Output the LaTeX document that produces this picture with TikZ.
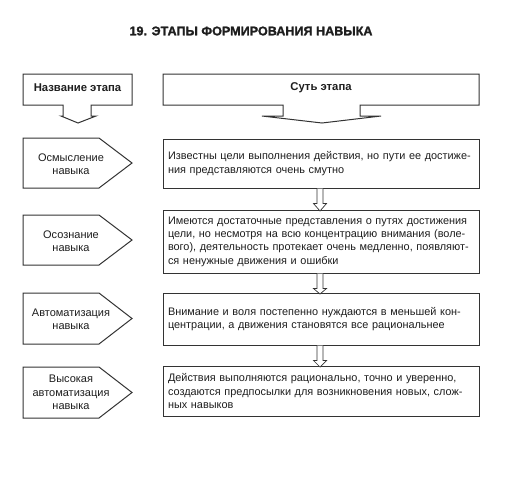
\documentclass[tikz,border=0pt]{standalone}
\usepackage{fontspec}
\setmainfont{Liberation Sans}
\newfontfamily\heavyfont[BoldFont={Liberation Sans Bold},BoldFeatures={FakeBold=1.6}]{Liberation Sans}
\definecolor{ink}{HTML}{333333}
\definecolor{txt}{HTML}{1E1E1E}
\begin{document}
\begin{tikzpicture}[x=1pt,y=-1pt,
  outline/.style={draw=ink,line width=1pt,line join=miter},
  essbox/.style={outline,text=txt,inner xsep=5pt,text width=306pt,align=left,
    font=\fontsize{10.9}{13.3}\selectfont},
  stagetext/.style={text=txt,align=center,font=\fontsize{11}{13.3}\selectfont},
  headtext/.style={text=txt,font=\bfseries\fontsize{11.3}{13}\selectfont},
  downarrow/.style={draw=ink,line width=0.7pt,fill=white}]
\useasboundingbox[fill=white] (0,0) rectangle (511,499);

% title
\node[text=txt,font=\heavyfont\bfseries\fontsize{12.6}{14}\selectfont] (title) at (251,31) {19. ЭТАПЫ ФОРМИРОВАНИЯ НАВЫКА};

% header callouts
\draw[outline] (23,74) -- (132,74) -- (132,105) -- (91,105) -- (91,116) -- (96,116)
  -- (78,123) -- (61,116) -- (63,116) -- (63,105) -- (23,105) -- cycle;
\node[headtext] (hname) at (77.5,88) {Название этапа};

\draw[outline] (163,74) -- (479,74) -- (479,105) -- (360,105) -- (360,116) -- (381,116)
  -- (322,123) -- (262,116) -- (283,116) -- (283,105) -- (163,105) -- cycle;
\node[headtext] (hess) at (321,88) {Суть этапа};

% stage pentagons
\draw[outline] (23,138) -- (99,138) -- (132,163) -- (99,188) -- (23,188) -- cycle;
\node[stagetext] (s1) at (71,164) {Осмысление\\навыка};
\draw[outline] (23,215) -- (99,215) -- (132,240) -- (99,265) -- (23,265) -- cycle;
\node[stagetext] (s2) at (71,241) {Осознание\\навыка};
\draw[outline] (23,293) -- (99,293) -- (132,318.5) -- (99,344) -- (23,344) -- cycle;
\node[stagetext] (s3) at (71,319) {Автоматизация\\навыка};
\draw[outline] (23,367) -- (99,367) -- (132,392.5) -- (99,418) -- (23,418) -- cycle;
\node[stagetext] (s4) at (71,392.5) {Высокая\\автоматизация\\навыка};

% essence boxes
\node[essbox,minimum height=49pt] (b1) at (321,163.5)
  {Известны цели выполнения действия, но пути ее достиже-\\ния представляются очень смутно};
\node[essbox,minimum height=63pt] (b2) at (321,241.5)
  {Имеются достаточные представления о путях достижения\\цели, но несмотря на всю концентрацию внимания (воле-\\вого), деятельность протекает очень медленно, появляют-\\ся ненужные движения и ошибки};
\node[essbox,minimum height=52pt] (b3) at (321,319)
  {Внимание и воля постепенно нуждаются в меньшей кон-\\центрации, а движения становятся все рациональнее};
\node[essbox,minimum height=50pt] (b4) at (321,391)
  {Действия выполняются рационально, точно и уверенно,\\создаются предпосылки для возникновения новых, слож-\\ных навыков};

% hollow arrows between boxes
\foreach \a/\b in {b1/b2,b2/b3,b3/b4}{
  \draw[downarrow] ([xshift=-4pt]\a.south) -- ([xshift=-4pt,yshift=-15pt]\a.south)
    -- ([xshift=-7.5pt,yshift=-15pt]\a.south) -- ([xshift=-1pt,yshift=-1.5pt]\b.north)
    -- ([xshift=5.5pt,yshift=-15pt]\a.south) -- ([xshift=2pt,yshift=-15pt]\a.south)
    -- ([xshift=2pt]\a.south);
}
\end{tikzpicture}
\end{document}
